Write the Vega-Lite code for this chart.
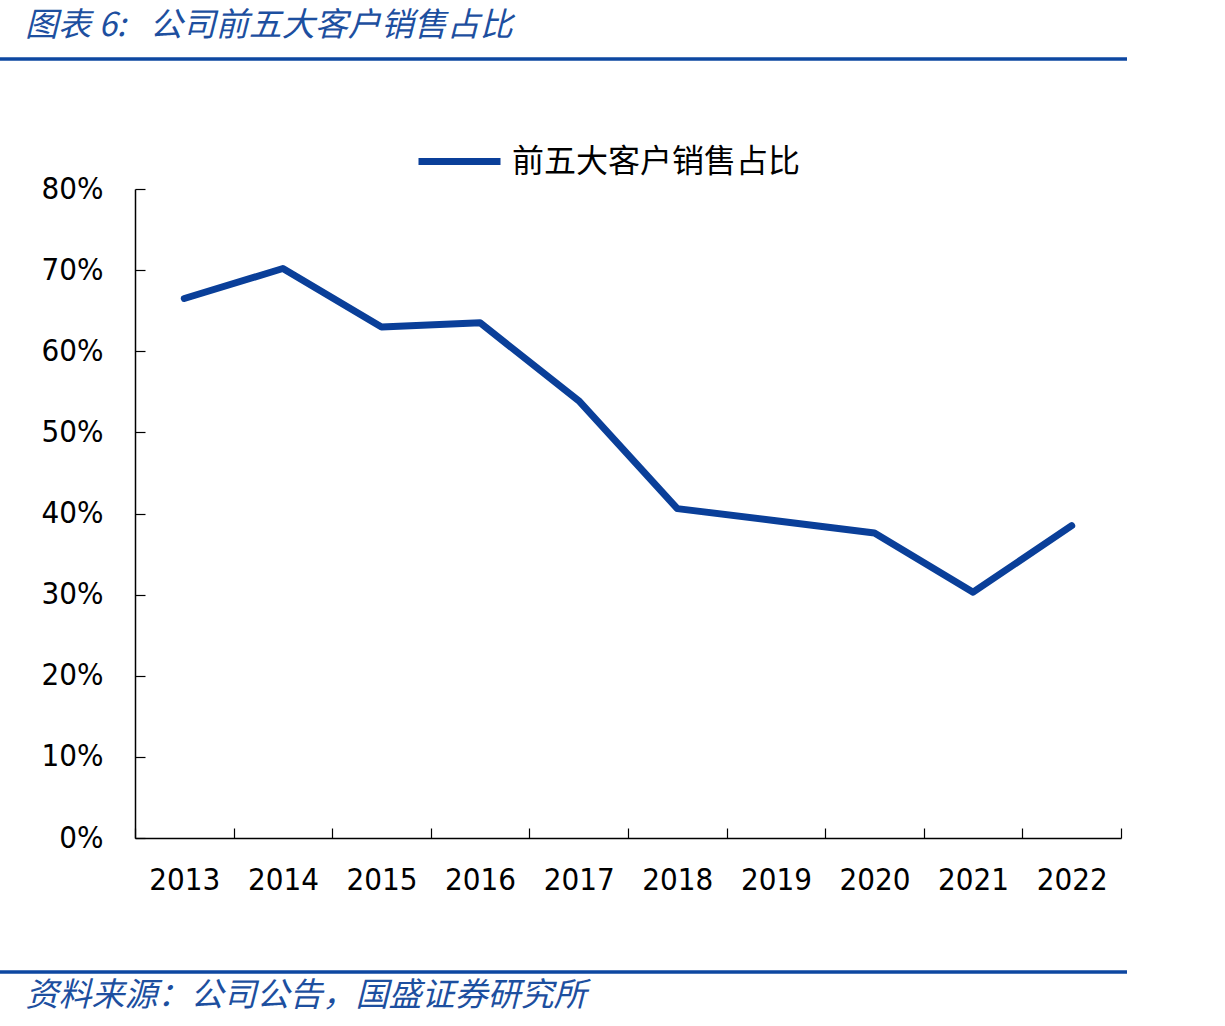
{
  "$schema": "https://vega.github.io/schema/vega-lite/v6.json",
  "autosize": {"type": "none"},
  "width": 986,
  "height": 649,
  "padding": {"left": 135, "top": 189, "right": 104, "bottom": 188},
  "background": "white",
  "config": {
    "view": {"stroke": null},
    "font": "Noto Sans CJK SC"
  },
  "title": {
    "text": "图表 6: \u2002公司前五大客户销售占比",
    "anchor": "start",
    "frame": "group",
    "dx": -110,
    "offset": 14,
    "font": "Noto Sans CJK SC",
    "fontSize": 33,
    "fontStyle": "italic",
    "fontWeight": "normal",
    "color": "#1d4f9f"
  },
  "datasets": {
    "share": [
      {"year": "2013", "ratio": 0.665, "series": "前五大客户销售占比"},
      {"year": "2014", "ratio": 0.702, "series": "前五大客户销售占比"},
      {"year": "2015", "ratio": 0.630, "series": "前五大客户销售占比"},
      {"year": "2016", "ratio": 0.635, "series": "前五大客户销售占比"},
      {"year": "2017", "ratio": 0.539, "series": "前五大客户销售占比"},
      {"year": "2018", "ratio": 0.406, "series": "前五大客户销售占比"},
      {"year": "2019", "ratio": 0.391, "series": "前五大客户销售占比"},
      {"year": "2020", "ratio": 0.376, "series": "前五大客户销售占比"},
      {"year": "2021", "ratio": 0.303, "series": "前五大客户销售占比"},
      {"year": "2022", "ratio": 0.385, "series": "前五大客户销售占比"}
    ]
  },
  "layer": [
    {
      "data": {"name": "share"},
      "mark": {"type": "line", "strokeWidth": 7, "strokeCap": "round", "strokeJoin": "round"},
      "encoding": {
        "x": {
          "field": "year",
          "type": "ordinal",
          "bandPosition": 0.5,
          "scale": {"type": "band", "paddingInner": 0, "paddingOuter": 0},
          "axis": {
            "title": "资料来源：公司公告，国盛证券研究所",
            "titleX": -110,
            "titleY": 157,
            "titleAlign": "left",
            "titleAnchor": null,
            "titleBaseline": "middle",
            "titleFont": "Noto Sans CJK SC",
            "titleFontSize": 33,
            "titleFontStyle": "italic",
            "titleFontWeight": "normal",
            "titleColor": "#1d4f9f",
            "labelAngle": 0,
            "labelFont": "DejaVu Sans Condensed",
            "labelFontSize": 31,
            "labelColor": "#000000",
            "labelPadding": 37,
            "tickBand": "extent",
            "tickSize": -10,
            "tickColor": "#000000",
            "tickWidth": 1.2,
            "domainColor": "#000000",
            "domainWidth": 1.5,
            "grid": false
          }
        },
        "y": {
          "field": "ratio",
          "type": "quantitative",
          "scale": {"domain": [0, 0.8], "nice": false},
          "axis": {
            "title": null,
            "values": [0, 0.1, 0.2, 0.3, 0.4, 0.5, 0.6, 0.7, 0.8],
            "format": ".0%",
            "labelFont": "DejaVu Sans Condensed",
            "labelFontSize": 31,
            "labelColor": "#000000",
            "labelPadding": 42,
            "tickSize": -10,
            "tickColor": "#000000",
            "tickWidth": 1.2,
            "domainColor": "#000000",
            "domainWidth": 1.5,
            "grid": false
          }
        },
        "color": {
          "field": "series",
          "type": "nominal",
          "scale": {"range": ["#0a3f99"]},
          "legend": {
            "title": null,
            "orient": "none",
            "legendX": 280,
            "legendY": -72,
            "symbolType": "stroke",
            "symbolSize": 6724,
            "symbolStrokeWidth": 7,
            "labelFont": "Noto Sans CJK SC",
            "labelFontSize": 32,
            "labelColor": "#000000",
            "labelOffset": 8,
            "labelLimit": 600
          }
        }
      }
    },
    {
      "data": {"values": [{"edge": "top"}]},
      "mark": {"type": "rule", "color": "#0d47a1", "strokeWidth": 3.5, "clip": false},
      "encoding": {
        "x": {"value": -135},
        "x2": {"value": 992},
        "y": {"value": -130}
      }
    },
    {
      "data": {"values": [{"edge": "bottom"}]},
      "mark": {"type": "rule", "color": "#0d47a1", "strokeWidth": 3.5, "clip": false},
      "encoding": {
        "x": {"value": -135},
        "x2": {"value": 992},
        "y": {"value": 783}
      }
    }
  ]
}
